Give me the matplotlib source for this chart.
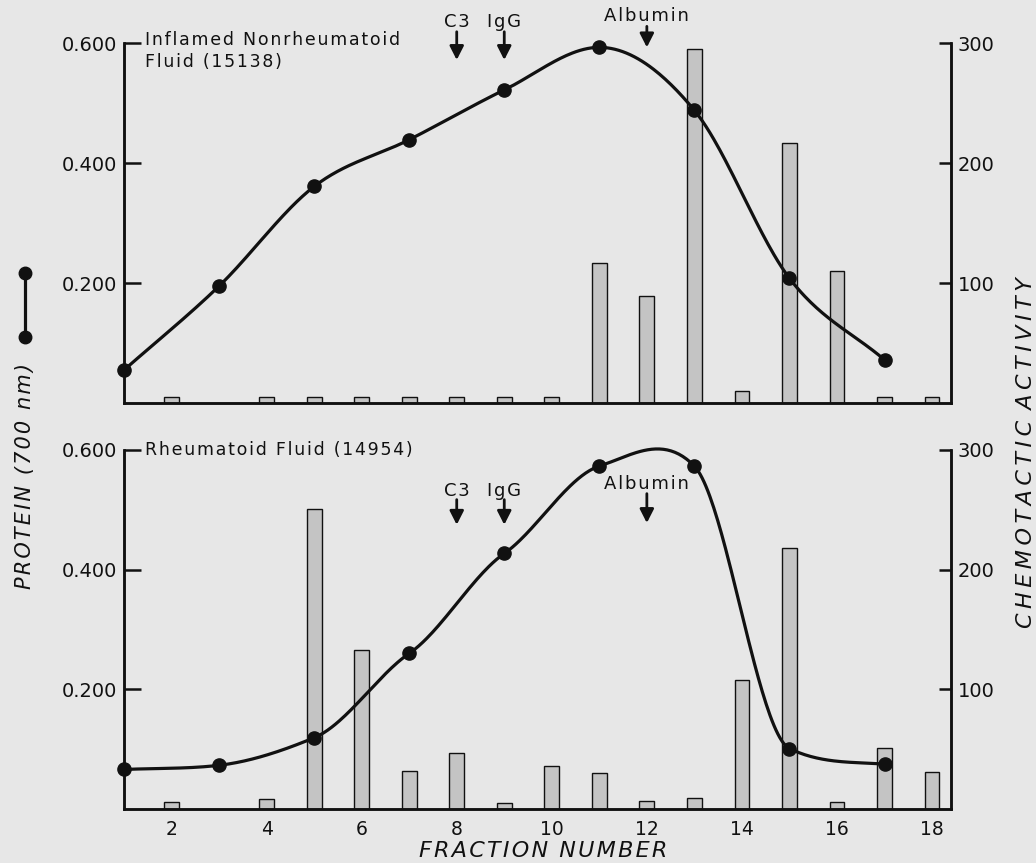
import numpy as np
import matplotlib
matplotlib.use("Agg")
import matplotlib.pyplot as plt
from matplotlib.lines import Line2D

# ---------------- data ----------------
bar_fractions_top = [2, 4, 5, 6, 7, 8, 9, 10, 11, 12, 13, 14, 15, 16, 17, 18]
activity_top = [5, 5, 5, 5, 5, 5, 5, 5, 117, 89, 295, 10, 217, 110, 5, 5]

bar_fractions_bot = [2, 4, 5, 6, 7, 8, 9, 10, 11, 12, 13, 14, 15, 16, 17, 18]
activity_bot = [6, 8, 251, 133, 32, 47, 5, 36, 30, 7, 9, 108, 218, 6, 51, 31]

protein_fractions = [1, 3, 5, 7, 9, 11, 13, 15, 17]
protein_top = [0.055, 0.195, 0.361, 0.439, 0.522, 0.593, 0.488, 0.208, 0.072]
protein_bot = [0.066, 0.073, 0.119, 0.260, 0.427, 0.573, 0.573, 0.101, 0.075]

left_ticks = [0.2, 0.4, 0.6]
left_labels = ["0.200", "0.400", "0.600"]
right_ticks = [100, 200, 300]
right_labels = ["100", "200", "300"]
x_ticks = [2, 4, 6, 8, 10, 12, 14, 16, 18]

title_top = "Inflamed Nonrheumatoid\nFluid (15138)"
title_bot = "Rheumatoid Fluid (14954)"

marker_names = ["C3", "IgG", "Albumin"]
marker_fractions = [8, 9, 12]

BG = "#e7e7e7"
BAR = "#c4c4c4"
INK = "#111111"
HAIR = "\u200a"
THIN = "\u2009"


def spaced(s, sep=HAIR):
    return sep.join(s)


def smooth(x, y, tension=0.7, n=50):
    x = np.asarray(x, float)
    y = np.asarray(y, float)
    d = np.diff(y) / np.diff(x)
    m = np.zeros_like(y)
    m[1:-1] = tension * (y[2:] - y[:-2]) / (x[2:] - x[:-2])
    m[0] = d[0]
    m[-1] = d[-1]
    for k in range(len(d)):
        if d[k] == 0:
            continue
        a = m[k] / d[k]
        b = m[k + 1] / d[k]
        if a < 0:
            m[k] = 0
            a = 0
        if b < 0:
            m[k + 1] = 0
            b = 0
        r = np.hypot(a, b)
        if r > 3:
            t = 3 / r
            m[k] = t * a * d[k]
            m[k + 1] = t * b * d[k]
    xs, ys = [], []
    for i in range(len(x) - 1):
        h = x[i + 1] - x[i]
        t = np.linspace(0, 1, n)
        h00 = 2 * t**3 - 3 * t**2 + 1
        h10 = t**3 - 2 * t**2 + t
        h01 = -2 * t**3 + 3 * t**2
        h11 = t**3 - t**2
        xs.append(x[i] + t * h)
        ys.append(h00 * y[i] + h10 * h * m[i] + h01 * y[i + 1] + h11 * h * m[i + 1])
    return np.concatenate(xs), np.concatenate(ys)


fig = plt.figure(figsize=(10.36, 8.63), dpi=100, facecolor=BG)

ax_top = fig.add_axes([0.1197, 0.533, 0.7983, 0.417])
ax_bot = fig.add_axes([0.1197, 0.0626, 0.7983, 0.416])


def panel(ax, bars_x, bars_y, prot, show_x, tension):
    ax.set_xlim(1, 18.4)
    ax.set_ylim(0, 0.6)
    axr = ax.twinx()
    axr.set_ylim(0, 300)
    axr.bar(bars_x, bars_y, width=0.31, color=BAR, edgecolor=INK,
            linewidth=1.0, zorder=2)
    sx, sy = smooth(protein_fractions, prot, tension=tension)
    ax.plot(sx, sy, color=INK, lw=2.3, zorder=3, clip_on=False)
    ax.plot(protein_fractions, prot, "o", color=INK, ms=9.5, zorder=4,
            clip_on=False)
    ax.set_zorder(axr.get_zorder() + 1)
    ax.patch.set_visible(False)
    axr.patch.set_facecolor(BG)
    for a in (ax, axr):
        a.spines["top"].set_visible(False)
        for s in ("left", "right", "bottom"):
            a.spines[s].set_linewidth(1.8)
            a.spines[s].set_color(INK)
    ax.set_yticks(left_ticks)
    ax.set_yticklabels(left_labels)
    ax.tick_params(axis="y", direction="in", length=12, width=1.8,
                   labelsize=14, pad=5, colors=INK)
    axr.set_yticks(right_ticks)
    axr.set_yticklabels(right_labels)
    axr.tick_params(axis="y", direction="in", length=9, width=1.8,
                    labelsize=14, pad=5, colors=INK)
    ax.set_xticks(x_ticks)
    if show_x:
        ax.tick_params(axis="x", length=0, labelsize=13.5, pad=8, colors=INK)
    else:
        ax.tick_params(axis="x", length=0, labelbottom=False)
    return axr


panel(ax_top, bar_fractions_top, activity_top, protein_top, False, 1.0)
panel(ax_bot, bar_fractions_bot, activity_bot, protein_bot, True, 0.7)

# panel titles
ax_top.text(1.45, 0.62, spaced(title_top.split("\n")[0]) + "\n" +
            spaced(title_top.split("\n")[1]), fontsize=12.5, color=INK,
            va="top", ha="left", linespacing=1.3)
ax_bot.text(1.45, 0.6, spaced(title_bot), fontsize=12.5, color=INK,
            va="center", ha="left")


def arrows(ax, label_y, y0, y1, alb_label_y, alb_y0, alb_y1):
    for name, fx in zip(marker_names, marker_fractions):
        if name == "Albumin":
            ly, a0, a1 = alb_label_y, alb_y0, alb_y1
        else:
            ly, a0, a1 = label_y, y0, y1
        ax.text(fx, ly, spaced(name), ha="center", va="baseline",
                fontsize=13, color=INK, clip_on=False)
        ax.annotate("", xy=(fx, a1), xytext=(fx, a0),
                    arrowprops=dict(arrowstyle="-|>,head_length=0.55,head_width=0.28",
                                    color=INK, lw=2.0, mutation_scale=15,
                                    shrinkA=0, shrinkB=0),
                    annotation_clip=False)


arrows(ax_top, 0.627, 0.619, 0.572, 0.637, 0.628, 0.593)
arrows(ax_bot, 0.523, 0.517, 0.475, 0.535, 0.527, 0.478)

# axis titles
fig.text(0.0241, 1 - 476 / 863, spaced("PROTEIN (700 nm)"), rotation=90,
         ha="center", va="center", fontsize=15, style="italic", color=INK)
fig.text(0.9905, 1 - 453 / 863,
         spaced("CHEMOTACTIC", THIN) + "\u2002" + spaced("ACTIVITY", THIN),
         rotation=90, ha="center", va="center", fontsize=16, style="italic",
         color=INK)
fig.text(543 / 1036, 1 - 851 / 863,
         spaced("FRACTION") + "\u2002" + spaced("NUMBER"), ha="center",
         va="center", fontsize=16, style="italic", color=INK)

# legend symbol for protein curve
fig.lines.append(Line2D([0.0241, 0.0241], [1 - 273 / 863, 1 - 337 / 863],
                        transform=fig.transFigure, color=INK, lw=2.3,
                        marker="o", ms=9))

fig.savefig("out.png", dpi=100, facecolor=BG)
